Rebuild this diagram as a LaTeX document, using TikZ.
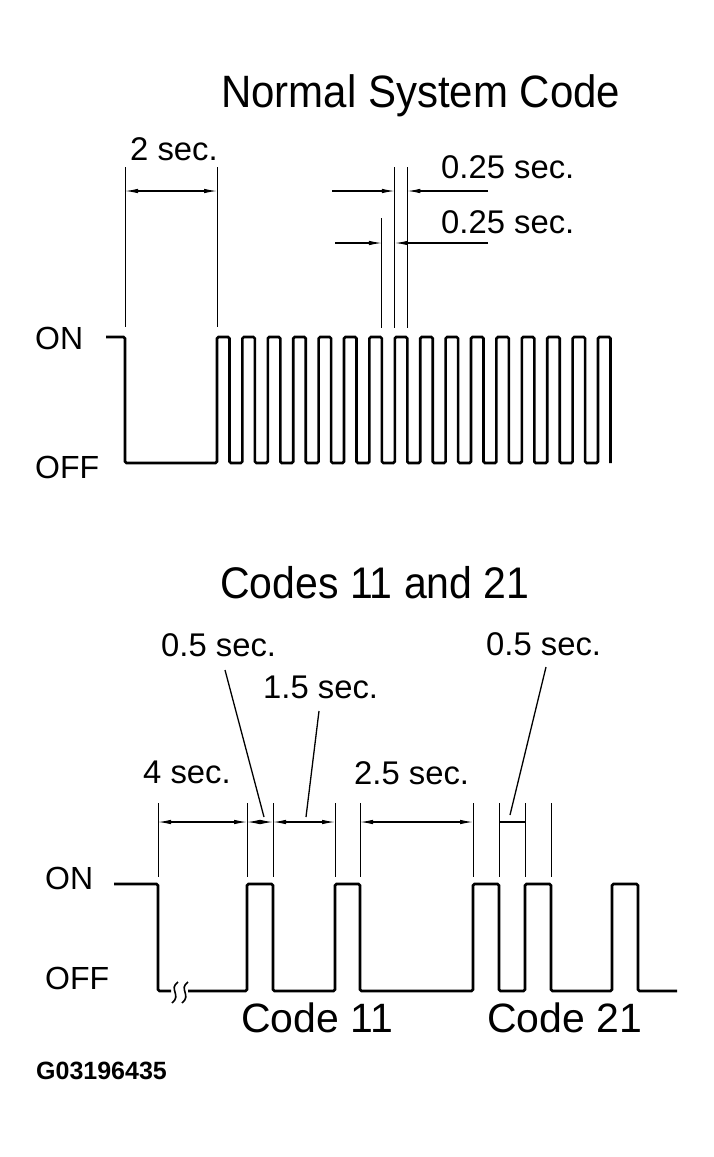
\documentclass[tikz,border=0pt]{standalone}
\usepackage{fontspec}
\setmainfont{Liberation Sans}
\usetikzlibrary{arrows.meta}

\begin{document}
\begin{tikzpicture}[x=1pt, y=-1pt, >={Latex[length=13pt, width=4.5pt]},
        wave/.style={line width=2.6pt, rounded corners=1.5pt},
        extline/.style={line width=1pt},
        dimline/.style={line width=1.1pt},
        leader/.style={line width=1.3pt},
        lbl/.style={anchor=base west, inner sep=0pt, font=\fontsize{32.8}{39}\selectfont},
        level/.style={anchor=base west, inner sep=0pt, font=\fontsize{32}{38}\selectfont},
        ttl/.style={anchor=base west, inner sep=0pt, yscale=1.08, font=\fontsize{42}{50}\selectfont}]
      \useasboundingbox (0,0) rectangle (714,1157);

      % normal system code
      \node[ttl] (ttlnormal) at (221,107) {Normal System Code};
      \node[level] (onA) at (35,349) {ON};
      \node[level] (offA) at (35,478) {OFF};

      \draw[wave] (106,337) -| (125,463) -| (217,337)
        -- ++(12.5,0) -- ++(0,126) -- ++(12.9,0) -- ++(0,-126) -- ++(12.5,0) -- ++(0,126) -- ++(12.9,0) -- ++(0,-126)
        -- ++(12.5,0) -- ++(0,126) -- ++(12.9,0) -- ++(0,-126) -- ++(12.5,0) -- ++(0,126) -- ++(12.9,0) -- ++(0,-126)
        -- ++(12.5,0) -- ++(0,126) -- ++(12.9,0) -- ++(0,-126) -- ++(12.5,0) -- ++(0,126) -- ++(12.9,0) -- ++(0,-126)
        -- ++(12.5,0) -- ++(0,126) -- ++(12.9,0) -- ++(0,-126) -- ++(12.5,0) -- ++(0,126) -- ++(12.9,0) -- ++(0,-126)
        -- ++(12.5,0) -- ++(0,126) -- ++(12.9,0) -- ++(0,-126) -- ++(12.5,0) -- ++(0,126) -- ++(12.9,0) -- ++(0,-126)
        -- ++(12.5,0) -- ++(0,126) -- ++(12.9,0) -- ++(0,-126) -- ++(12.5,0) -- ++(0,126) -- ++(12.9,0) -- ++(0,-126)
        -- ++(12.5,0) -- ++(0,126) -- ++(12.9,0) -- ++(0,-126) -- ++(12.5,0) -- ++(0,126) -- ++(12.9,0) -- ++(0,-126)
        -- ++(12.5,0) -- ++(0,126) -- ++(12.9,0) -- ++(0,-126) -- ++(12.5,0) -- ++(0,126);

      \coordinate (t1) at (125,167);  \coordinate (t1b) at (125,327);
      \coordinate (t2) at (217,167);  \coordinate (t2b) at (217,327);
      \coordinate (q1) at (381.9,218); \coordinate (q1b) at (381.9,328);
      \coordinate (q2) at (394.8,167); \coordinate (q2b) at (394.8,328);
      \coordinate (q3) at (407.3,167); \coordinate (q3b) at (407.3,328);
      \draw[extline] (t1) -- (t1b);
      \draw[extline] (t2) -- (t2b);
      \draw[extline] (q1) -- (q1b);
      \draw[extline] (q2) -- (q2b);
      \draw[extline] (q3) -- (q3b);

      \node[lbl] (twosec) at (130,160) {2 sec.};
      \draw[dimline, <->] (125,191) -- (217,191);

      \node[lbl] (quarterA) at (441,178) {0.25 sec.};
      \node[lbl] (quarterB) at (441,233) {0.25 sec.};
      \coordinate (qa1) at (332,191); \coordinate (qa2) at (488,191);
      \coordinate (qb1) at (335,243); \coordinate (qb2) at (488,243);
      \draw[dimline, ->] (qa1) -- (q2 |- qa1);
      \draw[dimline, ->] (qa2) -- (q3 |- qa2);
      \draw[dimline, ->] (qb1) -- (q1 |- qb1);
      \draw[dimline, ->] (qb2) -- (q2 |- qb2);

      % codes 11 and 21
      \node[ttl, font=\fontsize{41}{49}\selectfont] (ttlcodes) at (220,598) {Codes 11 and 21};
      \node[level] (onB) at (45,889) {ON};
      \node[level] (offB) at (45,989) {OFF};

      \draw[wave] (114,884) -| (158,991) -- (171,991);
      \draw[wave] (188,991) -| (247,884) -| (273,991) -| (335,884) -| (360,991) -| (473,884)
        -| (499,991) -| (525,884) -| (551,991) -| (612,884) -| (638,991) -- (677,991);
      \draw[leader, line width=1.6pt] (178,982) .. controls (168,989) and (182,995) .. (172,1003);
      \draw[leader, line width=1.6pt] (188,982) .. controls (178,989) and (192,995) .. (182,1003);

      \coordinate (c1) at (158,803); \coordinate (c2) at (247,803); \coordinate (c3) at (273,803);
      \coordinate (c4) at (335,803); \coordinate (c5) at (360,803); \coordinate (c6) at (473,803);
      \coordinate (c7) at (499,803); \coordinate (c8) at (525,803); \coordinate (c9) at (551,803);
      \draw[extline] (c1) -- ++(0,74);
      \draw[extline] (c2) -- ++(0,74);
      \draw[extline] (c3) -- ++(0,74);
      \draw[extline] (c4) -- ++(0,74);
      \draw[extline] (c5) -- ++(0,74);
      \draw[extline] (c6) -- ++(0,74);
      \draw[extline] (c7) -- ++(0,74);
      \draw[extline] (c8) -- ++(0,74);
      \draw[extline] (c9) -- ++(0,74);

      \draw[dimline, <->] ([yshift=-19pt]c1) -- ([yshift=-19pt]c2);
      \draw[dimline, <->] ([yshift=-19pt]c2) -- ([yshift=-19pt]c3);
      \draw[dimline, <->] ([yshift=-19pt]c3) -- ([yshift=-19pt]c4);
      \draw[dimline, <->] ([yshift=-19pt]c5) -- ([yshift=-19pt]c6);
      \draw[dimline] ([yshift=-19pt]c7) -- ([yshift=-19pt]c8);

      \node[lbl] (foursec) at (143,783) {4 sec.};
      \node[lbl] (halfA) at (161,656) {0.5 sec.};
      \node[lbl] (onehalf) at (263,698) {1.5 sec.};
      \node[lbl] (twohalf) at (354,784) {2.5 sec.};
      \node[lbl] (halfB) at (486,655) {0.5 sec.};

      \coordinate (ha) at (225,670);  \coordinate (hae) at (264,817);
      \coordinate (oh) at (319,711);  \coordinate (ohe) at (306,817);
      \coordinate (hb) at (546,667);  \coordinate (hbe) at (510,815);
      \draw[leader] (ha) -- (hae);
      \draw[leader] (oh) -- (ohe);
      \draw[leader] (hb) -- (hbe);

      \node[lbl, font=\fontsize{41}{49}\selectfont] (code11) at (241,1032) {Code 11};
      \node[lbl, font=\fontsize{41}{49}\selectfont] (code21) at (487,1032) {Code 21};

      \node[anchor=base west, inner sep=0pt, font=\bfseries\fontsize{25}{30}\selectfont] (figid) at (36,1079) {G03196435};
    \end{tikzpicture}
\end{document}
